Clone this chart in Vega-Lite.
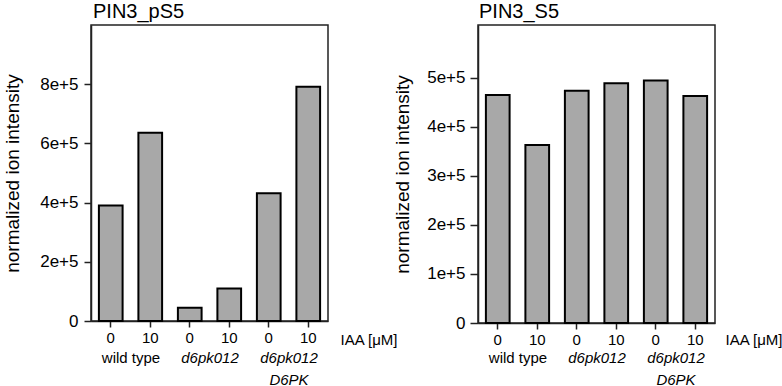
{
  "$schema": "https://vega.github.io/schema/vega-lite/v6.json",
  "padding": {"left": 2, "top": 1, "right": 0, "bottom": 0},
  "background": "white",
  "config": {
    "font": "Liberation Sans",
    "view": {"stroke": "#222222", "strokeWidth": 1.5},
    "axis": {
      "domainColor": "#222222", "domainWidth": 1.5,
      "tickColor": "#222222", "tickWidth": 1.5,
      "labelColor": "black", "titleColor": "black",
      "grid": false, "titleFontWeight": "normal"
    },
    "title": {"color": "black", "fontWeight": "normal", "fontSize": 20, "anchor": "start", "frame": "group", "offset": 3}
  },
  "datasets": {
    "pS5": [
      {"cond": "wt|0", "value": 390000},
      {"cond": "wt|10", "value": 636000},
      {"cond": "d6pk012|0", "value": 45000},
      {"cond": "d6pk012|10", "value": 110000},
      {"cond": "d6pk012 D6PK|0", "value": 432000},
      {"cond": "d6pk012 D6PK|10", "value": 791000}
    ],
    "S5": [
      {"cond": "wt|0", "value": 465000},
      {"cond": "wt|10", "value": 363000},
      {"cond": "d6pk012|0", "value": 474000},
      {"cond": "d6pk012|10", "value": 489000},
      {"cond": "d6pk012 D6PK|0", "value": 495000},
      {"cond": "d6pk012 D6PK|10", "value": 463000}
    ],
    "groups": [
      {"group": "wild type"},
      {"group": "d6pk012"},
      {"group": "d6pk012|D6PK"}
    ]
  },
  "bounds": "flush",
  "spacing": 150,
  "hconcat": [
    {
      "title": {"text": "PIN3_pS5", "dx": 2},
      "width": 237,
      "height": 296,
      "resolve": {"scale": {"x": "independent"}, "axis": {"x": "independent"}},
      "layer": [
        {
          "data": {"name": "pS5"},
          "mark": {"type": "bar", "fill": "#a8a8a8", "stroke": "black", "strokeWidth": 2},
          "encoding": {
            "x": {
              "field": "cond", "type": "nominal", "sort": null,
              "scale": {"paddingInner": 0.4, "paddingOuter": 0.2},
              "axis": {
                "orient": "bottom",
                "labelExpr": "split(datum.value, '|')[1]",
                "labelAngle": 0, "labelFontSize": 15, "labelPadding": 3, "tickSize": 6,
                "title": "IAA [μM]", "titleFontSize": 15, "titleX": 249, "titleY": 23,
                "titleAlign": "left", "titleBaseline": "alphabetic", "titleAnchor": null
              }
            },
            "y": {
              "field": "value", "type": "quantitative",
              "scale": {"domain": [0, 1000000], "nice": false},
              "axis": {
                "values": [0, 200000, 400000, 600000, 800000],
                "labelExpr": "datum.value == 0 ? '0' : format(datum.value, '.0e')",
                "labelFontSize": 17, "labelPadding": 6, "tickSize": 7,
                "title": "normalized ion intensity", "titleFontSize": 19, "titlePadding": 17
              }
            }
          }
        },
        {
          "data": {"name": "groups"},
          "mark": {"type": "point", "opacity": 0},
          "encoding": {
            "x": {
              "field": "group", "type": "nominal", "sort": null,
              "scale": {"paddingInner": 0, "paddingOuter": 0},
              "axis": {
                "orient": "bottom", "title": null, "domain": false, "ticks": false,
                "labelAngle": 0, "labelFontSize": 15, "labelPadding": 29,
                "labelLineHeight": 22, "labelLimit": 300,
                "labelExpr": "split(datum.value, '|')",
                "labelFontStyle": {"condition": {"test": "datum.value != 'wild type'", "value": "italic"}, "value": "normal"}
              }
            }
          }
        }
      ]
    },
    {
      "title": {"text": "PIN3_S5", "dx": 1},
      "width": 237,
      "height": 298,
      "resolve": {"scale": {"x": "independent"}, "axis": {"x": "independent"}},
      "layer": [
        {
          "data": {"name": "S5"},
          "mark": {"type": "bar", "fill": "#a8a8a8", "stroke": "black", "strokeWidth": 2},
          "encoding": {
            "x": {
              "field": "cond", "type": "nominal", "sort": null,
              "scale": {"paddingInner": 0.4, "paddingOuter": 0.2},
              "axis": {
                "orient": "bottom",
                "labelExpr": "split(datum.value, '|')[1]",
                "labelAngle": 0, "labelFontSize": 15, "labelPadding": 3, "tickSize": 6,
                "title": "IAA [μM]", "titleFontSize": 15, "titleX": 247, "titleY": 21,
                "titleAlign": "left", "titleBaseline": "alphabetic", "titleAnchor": null
              }
            },
            "y": {
              "field": "value", "type": "quantitative",
              "scale": {"domain": [0, 608000], "nice": false},
              "axis": {
                "values": [0, 100000, 200000, 300000, 400000, 500000],
                "labelExpr": "datum.value == 0 ? '0' : format(datum.value, '.0e')",
                "labelFontSize": 17, "labelPadding": 5, "tickSize": 8,
                "title": "normalized ion intensity", "titleFontSize": 19, "titlePadding": 14
              }
            }
          }
        },
        {
          "data": {"name": "groups"},
          "mark": {"type": "point", "opacity": 0},
          "encoding": {
            "x": {
              "field": "group", "type": "nominal", "sort": null,
              "scale": {"paddingInner": 0, "paddingOuter": 0},
              "axis": {
                "orient": "bottom", "title": null, "domain": false, "ticks": false,
                "labelAngle": 0, "labelFontSize": 15, "labelPadding": 27,
                "labelLineHeight": 22, "labelLimit": 300,
                "labelExpr": "split(datum.value, '|')",
                "labelFontStyle": {"condition": {"test": "datum.value != 'wild type'", "value": "italic"}, "value": "normal"}
              }
            }
          }
        }
      ]
    }
  ]
}
